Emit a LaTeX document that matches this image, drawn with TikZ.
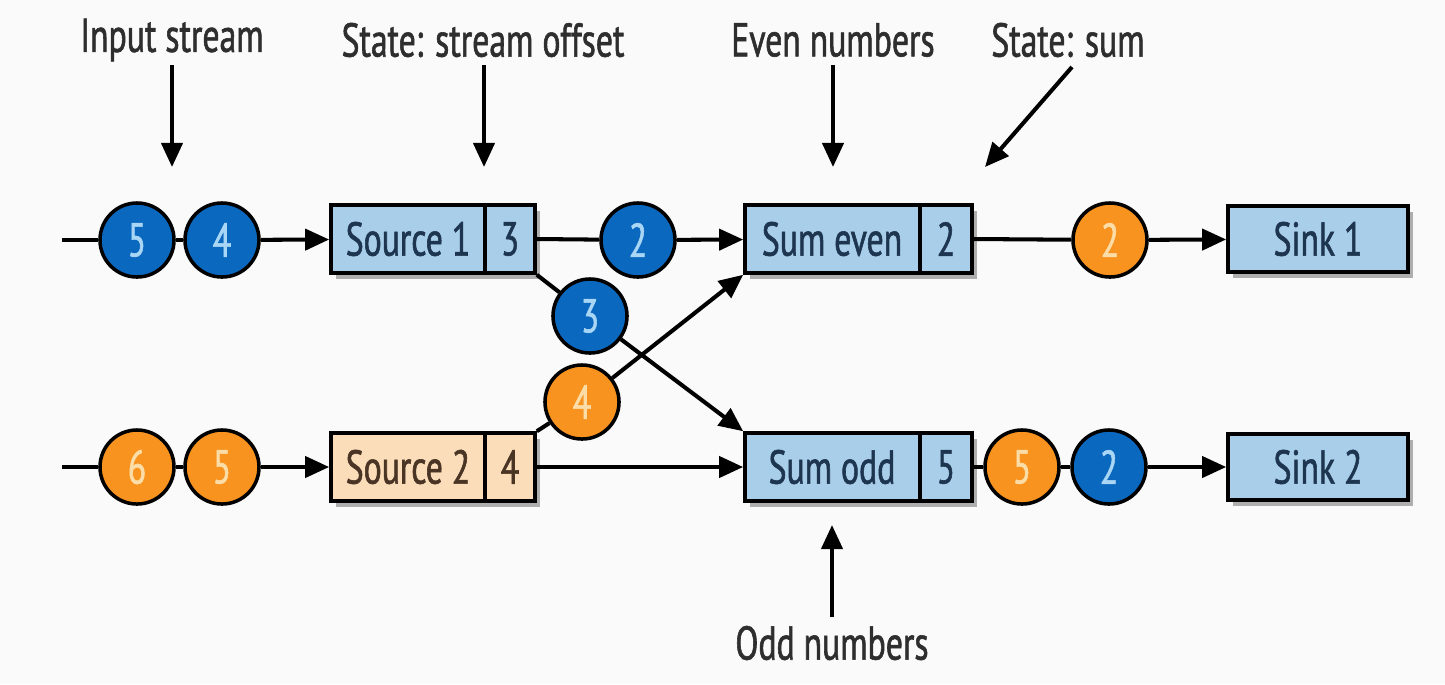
\documentclass[tikz,border=0pt]{standalone}
\usepackage{fontspec}
\setmainfont{PT Sans}[FakeStretch=0.71,FakeBold=1.2]
\usetikzlibrary{arrows.meta,shadows}
\definecolor{bgc}{HTML}{FAFAFA}
\definecolor{boxblue}{HTML}{A8CEEA}
\definecolor{boxpeach}{HTML}{FBDDBA}
\definecolor{cblue}{HTML}{0A68BE}
\definecolor{corange}{HTML}{F7931E}
\definecolor{tblue}{HTML}{A9D6F5}
\definecolor{torange}{HTML}{FCDDA8}
\definecolor{navy}{HTML}{1E3550}
\definecolor{brownt}{HTML}{4A3424}
\definecolor{labelc}{HTML}{2E2E2E}
\begin{document}
\begin{tikzpicture}[x=0.01cm,y=-0.01cm,
  font=\fontsize{13.5}{15}\selectfont,
  lw/.style={line width=1.15pt,black},
  arr/.style={lw,-{Triangle[length=0.24cm,width=0.21cm]}},
  stagebox/.style={draw=black,line width=1pt,minimum height=0.68cm,inner sep=0pt,
    drop shadow={shadow xshift=0.05cm,shadow yshift=-0.06cm,opacity=0.3,fill=black}},
  bluebox/.style={stagebox,fill=boxblue},
  peachbox/.style={stagebox,fill=boxpeach},
  btxt/.style={text=navy,inner sep=0pt},
  ptxt/.style={text=brownt,inner sep=0pt},
  bcirc/.style={circle,draw=black,line width=1pt,fill=cblue,text=tblue,minimum size=0.74cm,inner sep=0pt},
  ocirc/.style={circle,draw=black,line width=1pt,fill=corange,text=torange,minimum size=0.74cm,inner sep=0pt},
  lbl/.style={text=labelc,inner sep=0pt}
]
\useasboundingbox (0,0) rectangle (1445,684);
\fill[bgc] (0,0) rectangle (1445,684);

% boxes
\node[bluebox,minimum width=2.04cm] (src1) at (433,239) {};
\node[btxt] (src1t) at (408,239) {Source 1};
\node[btxt] (src1s) at (510,239) {3};
\draw[line width=1pt] (485,205) -- (485,273);

\node[peachbox,minimum width=2.04cm] (src2) at (433,467) {};
\node[ptxt] (src2t) at (408,467) {Source 2};
\node[ptxt] (src2s) at (510,467) {4};
\draw[line width=1pt] (485,433) -- (485,501);

\node[bluebox,minimum width=2.27cm] (even) at (858.5,239) {};
\node[btxt] (event) at (832,239) {Sum even};
\node[btxt] (evens) at (946,239) {2};
\draw[line width=1pt] (920,205) -- (920,273);

\node[bluebox,minimum width=2.27cm] (odd) at (858.5,467) {};
\node[btxt] (oddt) at (832,467) {Sum odd};
\node[btxt] (odds) at (946,467) {5};
\draw[line width=1pt] (920,433) -- (920,501);

\node[bluebox,minimum width=1.8cm,minimum height=0.66cm] (sink1) at (1318,239) {};
\node[btxt] (sink1t) at (1318,239) {Sink 1};
\node[bluebox,minimum width=1.8cm,minimum height=0.66cm] (sink2) at (1318,467) {};
\node[btxt] (sink2t) at (1318,467) {Sink 2};

% circles
\node[bcirc] (c5a) at (137,240) {5};
\node[bcirc] (c4a) at (222,240) {4};
\node[bcirc] (c2a) at (638,240) {2};
\node[bcirc] (c3) at (590,316) {3};
\node[ocirc] (c4b) at (582,402) {4};
\node[ocirc] (c6) at (137,467) {6};
\node[ocirc] (c5b) at (222,467) {5};
\node[ocirc] (o2) at (1110,240) {2};
\node[ocirc] (o5) at (1022,467) {5};
\node[bcirc] (b2) at (1109,467) {2};

\coordinate (in1) at (62,240);
\coordinate (in2) at (62,467);

% connectors
\draw[lw] (in1) -- (c5a);
\draw[lw] (c5a) -- (c4a);
\draw[arr] (c4a) -- (src1);
\draw[lw] (in2) -- (c6);
\draw[lw] (c6) -- (c5b);
\draw[arr] (c5b) -- (src2);
\draw[lw] (src1.east) -- (c2a);
\draw[arr] (c2a) -- (even);
\draw[lw] (src1.south east) -- (c3);
\draw[arr] (c3) -- (odd.north west);
\draw[lw] (src2.north east) -- (c4b);
\draw[arr] (c4b) -- (even.south west);
\draw[arr] (src2.east) -- (odd.west);
\draw[lw] (even.east) -- (o2);
\draw[arr] (o2) -- (sink1);
\draw[lw] (odd.east) -- (o5);
\draw[lw] (o5) -- (b2);
\draw[arr] (b2) -- (sink2);

% labels
\node[lbl] (linput) at (172,40) {Input stream};
\node[lbl] (loffset) at (483,40) {State: stream offset};
\node[lbl] (leven) at (833,40) {Even numbers};
\node[lbl] (lsum) at (1068,40) {State: sum};
\node[lbl] (lodd) at (832,643) {Odd numbers};

\coordinate (ainput) at (172,167);
\coordinate (aoffset) at (484,167);
\coordinate (aeven) at (833,167);
\coordinate (asum) at (985,167);
\coordinate (aodd) at (832,525);
\draw[arr] (172,65) -- (ainput);
\draw[arr] (484,65) -- (aoffset);
\draw[arr] (833,65) -- (aeven);
\draw[arr] (1072,67) -- (asum);
\draw[arr] (lodd.north) ++(0,-8) -- (aodd);
\end{tikzpicture}
\end{document}
